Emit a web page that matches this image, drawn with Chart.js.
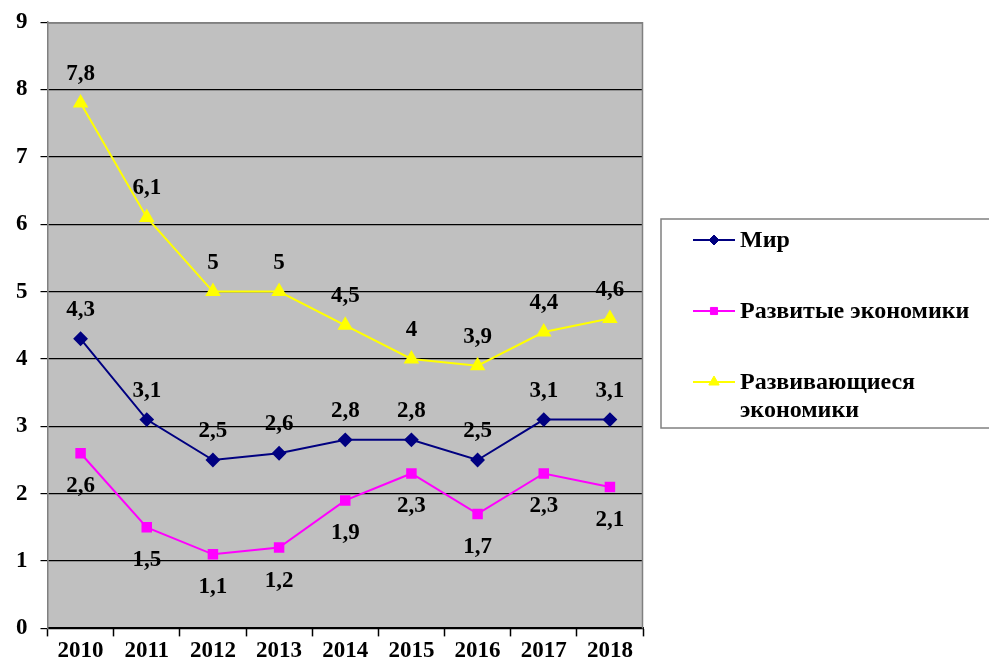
<html lang="ru">
<head>
<meta charset="UTF-8">
<title>Рост ВВП</title>
<script src="https://cdn.jsdelivr.net/npm/chart.js"></script>
<style>
  html, body { margin: 0; padding: 0; background: #ffffff; }
  .box { position: relative; width: 989px; height: 669px; }
</style>
</head>
<body>
<div class="box"><canvas id="gdpChart"></canvas></div>
<script>
  const years = ['2010', '2011', '2012', '2013', '2014', '2015', '2016', '2017', '2018'];
  const world = [4.3, 3.1, 2.5, 2.6, 2.8, 2.8, 2.5, 3.1, 3.1];
  const developed = [2.6, 1.5, 1.1, 1.2, 1.9, 2.3, 1.7, 2.3, 2.1];
  const developing = [7.8, 6.1, 5, 5, 4.5, 4, 3.9, 4.4, 4.6];
  const seriesNames = ['Мир', 'Развитые экономики', ['Развивающиеся', 'экономики']];

  const serif = '"Liberation Serif", "DejaVu Serif", serif';

  // серый фон области построения и рамка
  const plotBg = {
    id: 'plotBg',
    beforeDraw(chart) {
      const a = chart.chartArea, c = chart.ctx;
      c.save();
      c.fillStyle = '#c0c0c0';
      c.fillRect(a.left, a.top, a.right - a.left, a.bottom - a.top);
      c.restore();
    },
    afterDraw(chart) {
      const a = chart.chartArea, c = chart.ctx;
      c.save();
      c.strokeStyle = '#808080';
      c.lineWidth = 1.5;
      c.beginPath();
      c.moveTo(a.left, a.top + 0.5);
      c.lineTo(a.right - 0.5, a.top + 0.5);
      c.lineTo(a.right - 0.5, a.bottom);
      c.stroke();
      c.restore();
    }
  };

  // подписи значений
  const valueLabels = {
    id: 'valueLabels',
    afterDatasetsDraw(chart) {
      const c = chart.ctx;
      c.save();
      c.font = 'bold 23px ' + serif;
      c.fillStyle = '#000';
      c.textAlign = 'center';
      c.textBaseline = 'middle';
      chart.data.datasets.forEach((ds, i) => {
        const meta = chart.getDatasetMeta(i);
        meta.data.forEach((pt, j) => {
          const dy = ds.labelBelow ? 33 : -29;
          c.fillText(String(ds.data[j]).replace('.', ','), pt.x, pt.y + dy);
        });
      });
      c.restore();
    }
  };

  // легенда справа в рамке
  const sideLegend = {
    id: 'sideLegend',
    afterDraw(chart) {
      const c = chart.ctx;
      c.save();
      c.strokeStyle = '#808080';
      c.lineWidth = 1.5;
      c.strokeRect(661, 219, 340, 209);
      const rows = [240, 311, 382];
      c.font = 'bold 24px ' + serif;
      c.textBaseline = 'middle';
      c.textAlign = 'left';
      chart.data.datasets.forEach((ds, i) => {
        const y = rows[i];
        c.strokeStyle = ds.borderColor;
        c.lineWidth = 2;
        c.beginPath();
        c.moveTo(693, y);
        c.lineTo(735, y);
        c.stroke();
        c.fillStyle = ds.pointBackgroundColor;
        c.lineWidth = 1;
        Chart.helpers.drawPoint(c, {pointStyle: ds.pointStyle, radius: ds.pointRadius - 1, borderWidth: 1}, 714, y);
        c.fillStyle = '#000';
        const lines = Array.isArray(seriesNames[i]) ? seriesNames[i] : [seriesNames[i]];
        lines.forEach((t, k) => c.fillText(t, 740, y + 1 + k * 28));
      });
      c.restore();
    }
  };

  new Chart(document.getElementById('gdpChart'), {
    type: 'line',
    data: {
      labels: years,
      datasets: [{
        label: 'Мир',
        data: world,
        borderColor: '#000080',
        backgroundColor: '#000080',
        pointBackgroundColor: '#000080',
        pointStyle: 'rectRot',
        pointRadius: 6,
        borderWidth: 2
      }, {
        label: 'Развитые экономики',
        data: developed,
        borderColor: '#ff00ff',
        backgroundColor: '#ff00ff',
        pointBackgroundColor: '#ff00ff',
        pointStyle: 'rect',
        pointRadius: 6,
        borderWidth: 2,
        labelBelow: true
      }, {
        label: 'Развивающиеся экономики',
        data: developing,
        borderColor: '#ffff00',
        backgroundColor: '#ffff00',
        pointBackgroundColor: '#ffff00',
        pointStyle: 'triangle',
        pointRadius: 7,
        borderWidth: 2
      }]
    },
    options: {
      responsive: true,
      maintainAspectRatio: false,
      animation: false,
      layout: { padding: { top: 0, right: 346, left: 3, bottom: 3 } },
      plugins: { legend: { display: false }, tooltip: { enabled: false } },
      scales: {
        x: {
          offset: true,
          grid: { offset: true, drawOnChartArea: false, color: '#000', tickLength: 8, tickWidth: 1.5 },
          border: { color: '#000', width: 2 },
          ticks: { color: '#000', font: { family: serif, size: 23, weight: 'bold' }, padding: 1, maxRotation: 0 }
        },
        y: {
          min: 0,
          max: 9,
          ticks: { stepSize: 1, color: '#000', font: { family: serif, size: 23, weight: 'bold', lineHeight: 0.8 }, padding: 13 },
          grid: { color: '#000', lineWidth: 1.2, tickLength: 7 },
          border: { color: '#808080', width: 1.5 }
        }
      }
    },
    plugins: [plotBg, valueLabels, sideLegend]
  });
</script>
</body>
</html>
